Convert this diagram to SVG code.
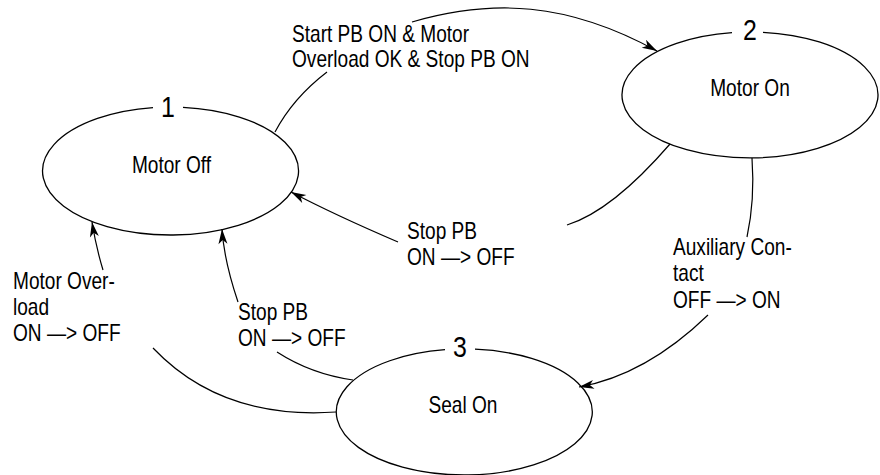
<svg xmlns="http://www.w3.org/2000/svg" width="880" height="475" viewBox="0 0 880 475">
  <style>
    .state { fill: none; stroke: #000; stroke-width: 1.3; }
    .wire { fill: none; stroke: #000; stroke-width: 1.2; }
    .txt { font-family: "Liberation Sans", Arial, Helvetica, sans-serif; font-size: 23px; fill: #000; }
    .num { font-family: "Liberation Sans", Arial, Helvetica, sans-serif; font-size: 30px; fill: #000; text-anchor: middle; }
    .mid { text-anchor: middle; }
  </style>
  <defs>
    <marker id="arrow" viewBox="-16 -5 17 10" refX="0" refY="0" markerWidth="17" markerHeight="10" markerUnits="userSpaceOnUse" orient="auto">
      <path d="M0,0 L-15,-4.5 L-11,0 L-15,4.5 Z" fill="#000"/>
    </marker>
  </defs>
  <rect width="880" height="475" fill="#fff"/>

  <!-- state 1 -->
  <g id="state1">
    <path class="state" d="M183,107.3 A128,64 0 1 1 153,107.6"/>
    <text class="num" transform="translate(168 116.7) scale(0.83 1)">1</text>
    <text class="txt mid" transform="translate(171.5 172.5) scale(0.83 1)">Motor Off</text>
  </g>

  <!-- state 2 -->
  <g id="state2">
    <path class="state" d="M763,32.3 A128,63 0 1 1 732,32.6"/>
    <text class="num" transform="translate(750 40) scale(0.83 1)">2</text>
    <text class="txt mid" transform="translate(750 96) scale(0.83 1)">Motor On</text>
  </g>

  <!-- state 3 -->
  <g id="state3">
    <path class="state" d="M475,349.2 A128,63 0 1 1 445,349.7"/>
    <text class="num" transform="translate(460 357) scale(0.83 1)">3</text>
    <text class="txt mid" transform="translate(463 413) scale(0.83 1)">Seal On</text>
  </g>

  <!-- transitions -->
  <g id="connectors">
    <!-- 1 -> 2 -->
    <path class="wire" d="M275,132 Q293,98 327,72"/>
    <path class="wire" d="M412,22 C492,-1.2 567,1.5 657,51" marker-end="url(#arrow)"/>
    <!-- 2 -> 1 -->
    <path class="wire" d="M670,144 Q612,211 567,225"/>
    <path class="wire" d="M398,242 Q335,215 291,192" marker-end="url(#arrow)"/>
    <!-- 2 -> 3 -->
    <path class="wire" d="M752,158 Q755,200 747,237"/>
    <path class="wire" d="M708,315 Q646,375 579,387" marker-end="url(#arrow)"/>
    <!-- 3 -> 1 (overload) -->
    <path class="wire" d="M336,412 Q221.5,420 153,348"/>
    <path class="wire" d="M103,270 Q96,247 92,222" marker-end="url(#arrow)"/>
    <!-- 3 -> 1 (stop) -->
    <path class="wire" d="M353,380 Q311,374 277,352"/>
    <path class="wire" d="M238,302 Q224,260.5 222,229" marker-end="url(#arrow)"/>
  </g>

  <!-- transition labels -->
  <g id="labels">
    <text class="txt" transform="translate(292 41.5) scale(0.83 1)"><tspan x="0" y="0">Start PB ON &amp; Motor</tspan><tspan x="0" y="26">Overload OK &amp; Stop PB ON</tspan></text>
    <text class="txt" transform="translate(407 239) scale(0.83 1)"><tspan x="0" y="0">Stop PB</tspan><tspan x="0" y="26.5">ON —&gt; OFF</tspan></text>
    <text class="txt" transform="translate(673 255) scale(0.83 1)"><tspan x="0" y="0">Auxiliary Con-</tspan><tspan x="0" y="26.5">tact</tspan><tspan x="0" y="53">OFF —&gt; ON</tspan></text>
    <text class="txt" transform="translate(13 288.5) scale(0.83 1)"><tspan x="0" y="0">Motor Over-</tspan><tspan x="0" y="26.5">load</tspan><tspan x="0" y="53">ON —&gt; OFF</tspan></text>
    <text class="txt" transform="translate(238 319.5) scale(0.83 1)"><tspan x="0" y="0">Stop PB</tspan><tspan x="0" y="26.5">ON —&gt; OFF</tspan></text>
  </g>
</svg>
